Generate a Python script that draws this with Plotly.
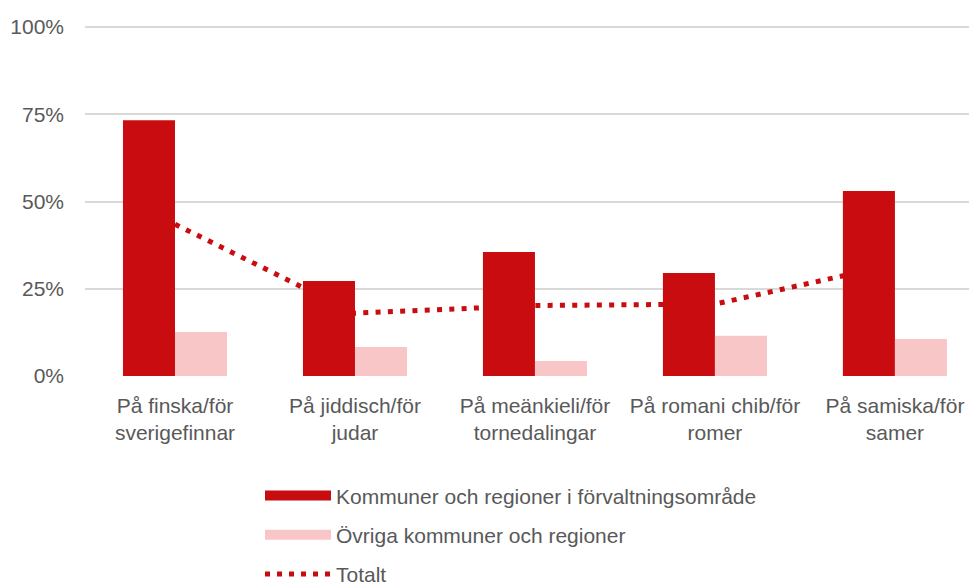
import plotly.graph_objects as go

categories = ["På finska/för<br>sverigefinnar", "På jiddisch/för<br>judar",
              "På meänkieli/för<br>tornedalingar", "På romani chib/för<br>romer",
              "På samiska/för<br>samer"]
forvaltning = [0.733, 0.272, 0.355, 0.295, 0.530]
ovriga = [0.126, 0.083, 0.043, 0.115, 0.106]
totalt = [0.435, 0.180, 0.202, 0.206, 0.320]
y_ticks = [0, 0.25, 0.5, 0.75, 1.0]
y_tick_labels = ["0%", "25%", "50%", "75%", "100%"]

names = ["Kommuner och regioner i förvaltningsområde",
         "Övriga kommuner och regioner", "Totalt"]

DARK = "#C80C0F"
LIGHT = "#F9C6C8"
GREY = "#595959"
FONT = "Liberation Sans, Arial, sans-serif"

fig = go.Figure()

# line on the base axes (drawn beneath the bars)
fig.add_trace(go.Scatter(x=categories, y=totalt, mode="lines", name=names[2],
                         line=dict(color=DARK, width=5, dash="5px,7.3px"),
                         showlegend=False, xaxis="x", yaxis="y"))
# bars on overlaying axes (drawn on top)
fig.add_trace(go.Bar(x=categories, y=forvaltning, name=names[0], marker_color=DARK,
                     marker_line=dict(width=0), showlegend=False,
                     xaxis="x2", yaxis="y2"))
fig.add_trace(go.Bar(x=categories, y=ovriga, name=names[1], marker_color=LIGHT,
                     marker_line=dict(width=0), showlegend=False,
                     xaxis="x2", yaxis="y2"))

# legend entries
fig.add_trace(go.Scatter(x=[None], y=[None], mode="lines", name=names[0],
                         line=dict(color=DARK, width=13), legendgroup="a"))
fig.add_trace(go.Scatter(x=[None], y=[None], mode="lines", name=names[1],
                         line=dict(color=LIGHT, width=13), legendgroup="b"))
fig.add_trace(go.Scatter(x=[None], y=[None], mode="lines", name=names[2],
                         line=dict(color=DARK, width=5, dash="5px,7px"), legendgroup="c"))

xr = [-0.5, 4.456]
yr = [0, 1.003]
fig.update_layout(
    width=969, height=577,
    margin=dict(l=77, r=0, t=18, b=209, autoexpand=False),
    paper_bgcolor="white", plot_bgcolor="white",
    font=dict(family=FONT, size=21, color=GREY),
    barmode="group", bargap=0.422, bargroupgap=0,
    xaxis=dict(type="category", categoryarray=categories, range=xr,
               showgrid=False, showline=False, zeroline=False,
               ticks="", ticklabelstandoff=15, automargin=False, tickangle=0,
               tickfont=dict(family=FONT, size=21, color=GREY)),
    yaxis=dict(range=yr, tickvals=y_ticks, ticktext=y_tick_labels,
               showgrid=True, gridcolor="#D9D9D9", gridwidth=1.5,
               zeroline=False, showline=False, ticks="", ticklabelstandoff=20,
               automargin=False,
               tickfont=dict(family=FONT, size=21, color=GREY)),
    xaxis2=dict(type="category", categoryarray=categories, range=xr,
                overlaying="x", showgrid=False, showticklabels=False,
                zeroline=False, showline=False, automargin=False),
    yaxis2=dict(range=yr, overlaying="y", showgrid=False, automargin=False,
                showticklabels=False, zeroline=False, showline=False),
    legend=dict(orientation="v", x=0.1962, y=-0.2836, xanchor="left", yanchor="top",
                itemwidth=66, traceorder="grouped", tracegroupgap=9,
                font=dict(family=FONT, size=21, color=GREY),
                bgcolor="rgba(0,0,0,0)"),
    showlegend=True,
)

fig.write_html("out.html")
